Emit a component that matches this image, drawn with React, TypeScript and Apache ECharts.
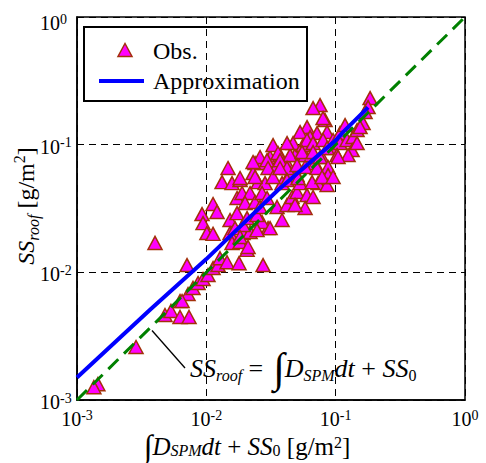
import React, { useEffect, useRef } from "react";
import * as echarts from "echarts";

const FONT = "Liberation Serif";

// Observations [x = ∫D_SPM dt + SS0, y = SS_roof] in g/m2
const obsPoints: [number, number][] = [
  [0.00145, 0.00133], [0.00135, 0.00126], [0.00286, 0.0026], [0.00479, 0.00463], [0.00533, 0.00498],
  [0.00626, 0.00447], [0.00735, 0.00447], [0.00626, 0.00596], [0.00722, 0.00676], [0.00789, 0.00754],
  [0.00863, 0.00825], [0.00943, 0.00886], [0.0103, 0.00952], [0.01127, 0.0108], [0.01232, 0.0114],
  [0.00401, 0.017], [0.00709, 0.0114], [0.00926, 0.0286], [0.01127, 0.0343], [0.0121, 0.0297],
  [0.00943, 0.0243], [0.0101, 0.0203], [0.01127, 0.02], [0.01525, 0.0257], [0.01525, 0.0203],
  [0.0158, 0.017], [0.01823, 0.0173], [0.01922, 0.0203], [0.02178, 0.0207], [0.02065, 0.015],
  [0.03001, 0.0222], [0.02697, 0.0248], [0.01276, 0.0129], [0.01446, 0.012], [0.0179, 0.0118],
  [0.02745, 0.0114], [0.01472, 0.0656], [0.01323, 0.0509], [0.0158, 0.05], [0.01823, 0.0528],
  [0.01728, 0.0382], [0.0189, 0.0418], [0.02178, 0.0418], [0.01993, 0.0349], [0.02381, 0.0355],
  [0.01728, 0.0291], [0.01667, 0.0222], [0.01922, 0.0235], [0.02065, 0.0266], [0.02466, 0.0281],
  [0.02602, 0.0325], [0.02381, 0.0718], [0.02697, 0.0718], [0.02297, 0.0599], [0.02511, 0.0509],
  [0.02844, 0.05], [0.02697, 0.0418], [0.02949, 0.0382], [0.0311, 0.08], [0.03715, 0.0829],
  [0.03523, 0.0692], [0.04209, 0.0718], [0.04441, 0.0599], [0.03851, 0.05], [0.03523, 0.0325],
  [0.04209, 0.0337], [0.04601, 0.0389], [0.03851, 0.0257], [0.05029, 0.0426], [0.05304, 0.05],
  [0.06008, 0.0403], [0.06688, 0.0389], [0.05799, 0.0319], [0.04853, 0.0829], [0.05799, 0.0829],
  [0.06929, 0.0718], [0.07848, 0.08], [0.07308, 0.05], [0.0311, 0.0222], [0.02466, 0.0214],
  [0.01823, 0.0189], [0.02102, 0.0158], [0.04853, 0.0337], [0.05029, 0.0578], [0.0757, 0.2042],
  [0.06688, 0.1935], [0.1846, 0.2317], [0.1781, 0.197], [0.08279, 0.1558], [0.06008, 0.1373],
  [0.05304, 0.1255], [0.07179, 0.1233], [0.08579, 0.1255], [0.06339, 0.1147], [0.09548, 0.1087],
  [0.1081, 0.1233], [0.0328, 0.0993], [0.04684, 0.1029], [0.05596, 0.0993], [0.06008, 0.1087],
  [0.06688, 0.1029], [0.0799, 0.1087], [0.0938, 0.0941], [0.1081, 0.1029], [0.1225, 0.1087],
  [0.1363, 0.1147], [0.1464, 0.1301], [0.1629, 0.1476], [0.134, 0.0907], [0.1464, 0.1029],
  [0.02602, 0.08], [0.02949, 0.0757], [0.03585, 0.086], [0.04441, 0.0829], [0.03715, 0.0757],
  [0.05497, 0.0875], [0.06688, 0.0875], [0.0757, 0.08], [0.08579, 0.0941], [0.1025, 0.0829],
  [0.1247, 0.0829], [0.02297, 0.0731], [0.01823, 0.0548], [0.02381, 0.0558], [0.03001, 0.0656],
  [0.0328, 0.0558], [0.04209, 0.0656], [0.05029, 0.0692], [0.05799, 0.0668], [0.07179, 0.0656],
  [0.08733, 0.0668], [0.1043, 0.08], [0.08733, 0.0578], [0.04209, 0.0528], [0.0512, 0.0548],
  [0.06571, 0.0509], [0.08579, 0.0483], [0.07848, 0.0558], [0.09548, 0.0558], [0.03715, 0.0656],
  [0.04209, 0.1029], [0.1182, 0.1424], [0.1544, 0.1373], [0.0799, 0.1615], [0.1688, 0.18],
  [0.00649, 0.00596],
];

// Approximation curve
const approxX = [0.001, 0.00367, 0.01, 0.0355, 0.102, 0.112, 0.178];
const approxY = [0.0015, 0.0051, 0.0127, 0.0437, 0.11, 0.123, 0.196];

// 1:1 line  SS_roof = ∫D_SPM dt + SS0
const identityX = [0.001, 1];
const identityY = [0.001, 1];

// leader line of the annotation
const leaderX = [0.0038, 0.00684];
const leaderY = [0.0035, 0.00178];

const legendNames = ["Obs.", "Approximation"];

const AXIS_MIN = 0.001;
const AXIS_MAX = 1;

const OBS_FILL = "#ff00ff";
const OBS_EDGE = "#a3300a";
const APPROX_COLOR = "#0000ff";
const ID_COLOR = "#008000";

const zip = (xs: number[], ys: number[]) => xs.map((x, i) => [x, ys[i]]);

const xLabel = (v: number) => {
  const e = Math.round(Math.log10(v));
  return `{b|10}{s|${e}}`;
};
const yLabel = (v: number) => {
  const e = Math.round(Math.log10(v));
  return e === 0 ? `{bt|10}{st|${e}}` : `{b|10}{s|${e}}`;
};

const tokenB = { fontSize: 20, fontFamily: FONT, color: "#000", lineHeight: 22 };
const tokenS = { fontSize: 14, fontFamily: FONT, color: "#000", lineHeight: 14, verticalAlign: "top" as const };

const xRich = { b: tokenB, s: tokenS };
const yRich = {
  b: { ...tokenB, padding: [4, 0, 0, 0] },
  s: { ...tokenS, padding: [2, 0, 0, 0] },
  bt: { ...tokenB, padding: [12, 0, 0, 0] },
  st: { ...tokenS, padding: [6, 0, 0, 0] },
};

const eqRich = (size: number, intSize: number, lh: number, subLh: number) => ({
  i: { fontSize: size, fontFamily: FONT, fontStyle: "italic" as const, color: "#000", lineHeight: lh },
  n: { fontSize: size, fontFamily: FONT, color: "#000", lineHeight: lh },
  sp: { fontSize: 14, fontFamily: FONT, color: "#000", lineHeight: lh },
  sb: { fontSize: 16, fontFamily: FONT, fontStyle: "italic" as const, color: "#000", lineHeight: subLh, verticalAlign: "bottom" as const },
  s0: { fontSize: 16, fontFamily: FONT, color: "#000", lineHeight: subLh, verticalAlign: "bottom" as const },
  sup: { fontSize: 16, fontFamily: FONT, color: "#000", lineHeight: subLh, verticalAlign: "top" as const },
  int: { fontSize: intSize, fontFamily: FONT, color: "#000", lineHeight: lh },
});

export default function App() {
  const ref = useRef<HTMLDivElement>(null);
  useEffect(() => {
    if (!ref.current) return;
    const chart = echarts.init(ref.current, undefined, { renderer: "svg" });
    chart.setOption({
      animation: false,
      backgroundColor: "#fff",
      textStyle: { fontFamily: FONT },
      grid: {
        left: 77, right: 21, top: 17, bottom: 63,
        show: true, borderColor: "#000", borderWidth: 1.5, backgroundColor: "transparent",
      },
      xAxis: {
        type: "log", logBase: 10, min: AXIS_MIN, max: AXIS_MAX,
        axisLine: { show: true, lineStyle: { color: "#000", width: 1.5 } },
        axisTick: { show: false },
        minorTick: { show: false },
        splitLine: { show: true, lineStyle: { color: "#000", width: 1, type: [7, 5] } },
        axisLabel: {
          formatter: xLabel, rich: xRich, margin: 8, fontFamily: FONT, fontSize: 20, color: "#000",
          showMinLabel: true, showMaxLabel: true,
        },
      },
      yAxis: {
        type: "log", logBase: 10, min: AXIS_MIN, max: AXIS_MAX,
        axisLine: { show: true, lineStyle: { color: "#000", width: 1.5 } },
        axisTick: { show: false },
        minorTick: { show: false },
        splitLine: { show: true, lineStyle: { color: "#000", width: 1, type: [7, 5] } },
        axisLabel: {
          formatter: yLabel, rich: yRich, margin: 37, align: "left", fontFamily: FONT, fontSize: 20, color: "#000",
          showMinLabel: true, showMaxLabel: true,
        },
      },
      series: [
        {
          name: legendNames[0], type: "scatter", symbol: "triangle", symbolSize: [14, 13],
          itemStyle: { color: OBS_FILL, borderColor: OBS_EDGE, borderWidth: 1.5, opacity: 1 },
          data: obsPoints, z: 2,
        },
        {
          name: "1:1", type: "line", symbol: "none", silent: true,
          lineStyle: { color: ID_COLOR, width: 3, type: [14, 8] },
          data: zip(identityX, identityY), z: 3,
        },
        {
          name: legendNames[1], type: "line", symbol: "none", smooth: false,
          lineStyle: { color: APPROX_COLOR, width: 4 },
          itemStyle: { color: APPROX_COLOR },
          data: zip(approxX, approxY), z: 4,
        },
        {
          name: "leader", type: "line", symbol: "none", silent: true,
          lineStyle: { color: "#000", width: 1.3 },
          data: zip(leaderX, leaderY), z: 4,
        },
      ],
      graphic: [
        {
          type: "group", z: 100,
          children: [
            { type: "rect", shape: { x: 84, y: 27, width: 223, height: 74 }, style: { fill: "#fff", stroke: "#000", lineWidth: 2 } },
            {
              type: "polygon", shape: { points: [[118, 56.5], [132, 56.5], [125, 43.5]] },
              style: { fill: OBS_FILL, stroke: OBS_EDGE, lineWidth: 1.5 },
            },
            { type: "line", shape: { x1: 99, y1: 81, x2: 144, y2: 81 }, style: { stroke: APPROX_COLOR, lineWidth: 4 } },
            {
              type: "text", x: 153, y: 51,
              style: { text: legendNames[0], fontSize: 24, fontFamily: FONT, fill: "#000", verticalAlign: "middle", align: "left" },
            },
            {
              type: "text", x: 153, y: 81,
              style: { text: legendNames[1], fontSize: 24, fontFamily: FONT, fill: "#000", verticalAlign: "middle", align: "left" },
            },
          ],
        },
        {
          type: "text", x: 190, y: 368, z: 10,
          style: {
            text: "{i|SS}{sb|roof}{n| = }{sp| }{int|∫}{i|D}{sb|SPM}{i|dt}{n| + }{i|SS}{s0|0}",
            rich: eqRich(26, 42, 30, 14), align: "left", verticalAlign: "middle",
          },
        },
        {
          type: "text", x: 247, y: 446, z: 10,
          style: {
            text: "{int|∫}{i|D}{sb|SPM}{i|dt}{n| + }{i|SS}{s0|0}{n| [g/m}{sup|2}{n|]}",
            rich: eqRich(25, 32, 24, 8), align: "center", verticalAlign: "middle",
          },
        },
        {
          type: "text", x: 26, y: 206, rotation: Math.PI / 2, z: 10,
          style: {
            text: "{i|SS}{sb|roof}{n| [g/m}{sup|2}{n|]}",
            rich: eqRich(24, 30, 30, 14), align: "center", verticalAlign: "middle",
          },
        },
      ],
    });
    return () => chart.dispose();
  }, []);
  return <div ref={ref} style={{ position: "absolute", left: 0, top: 0, width: 486, height: 463 }} />;
}
